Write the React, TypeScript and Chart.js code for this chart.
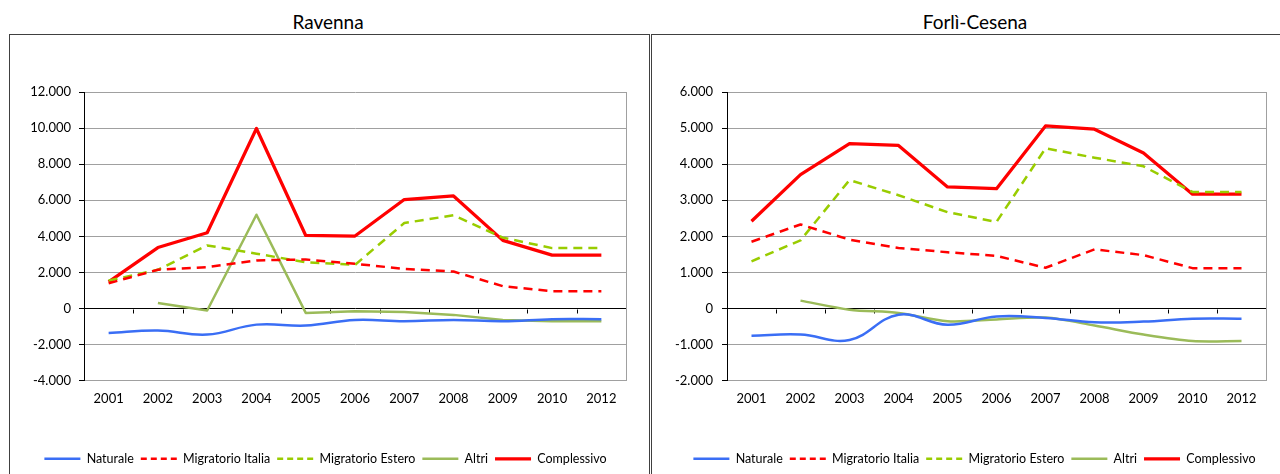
import React, { useEffect, useRef } from 'react';
import { Chart, registerables } from 'chart.js';

Chart.register(...registerables);

const categories = ['2001', '2002', '2003', '2004', '2005', '2006', '2007', '2008', '2009', '2010', '2012'];
const seriesNames = ['Naturale', 'Migratorio Italia', 'Migratorio Estero', 'Altri', 'Complessivo'];

// Ravenna
const ravNaturale = [-1350, -1220, -1440, -890, -940, -630, -700, -630, -700, -590, -590];
const ravMigItalia = [1400, 2150, 2300, 2670, 2720, 2480, 2200, 2050, 1240, 960, 960];
const ravMigEstero = [1550, 2150, 3500, 3040, 2570, 2420, 4740, 5170, 3930, 3350, 3350];
const ravAltri = [null, 310, -110, 5200, -240, -150, -190, -350, -630, -700, -700];
const ravComplessivo = [1480, 3380, 4200, 9980, 4050, 4020, 6040, 6240, 3780, 2960, 2960];

// Forlì-Cesena
const forNaturale = [-750, -720, -870, -170, -450, -220, -260, -380, -360, -280, -280];
const forMigItalia = [1850, 2330, 1910, 1680, 1560, 1460, 1130, 1640, 1480, 1120, 1120];
const forMigEstero = [1310, 1890, 3560, 3140, 2670, 2400, 4440, 4180, 3940, 3230, 3230];
const forAltri = [null, 220, -30, -120, -350, -300, -250, -470, -720, -900, -900];
const forComplessivo = [2420, 3710, 4570, 4520, 3370, 3320, 5060, 4970, 4310, 3170, 3170];

const ravTicks = { min: -4000, max: 12000, step: 2000 };
const forTicks = { min: -2000, max: 6000, step: 1000 };

const FONT = 'Lato, "Open Sans", sans-serif';
const GRID = '#A0A0A0';

function fmt(v: number): string {
  const sign = v < 0 ? '-' : '';
  const s = String(Math.abs(Math.round(v)));
  return sign + s.replace(/\B(?=(\d{3})+(?!\d))/g, '.');
}

const framePlugin = {
  id: 'frame',
  afterLayout(chart: any, _args: any, opts: any) {
    const l = chart.legend;
    if (l && opts && opts.dx) {
      l.left += opts.dx;
      l.right += opts.dx;
    }
  },
  beforeDatasetsDraw(chart: any) {
    const { ctx, chartArea: a, scales } = chart;
    const y0 = Math.round(scales.y.getPixelForValue(0)) + 0.5;
    ctx.save();
    ctx.lineWidth = 1;
    ctx.strokeStyle = GRID;
    const xr = Math.round(a.right) + 0.5;
    ctx.beginPath();
    ctx.moveTo(xr, a.top);
    ctx.lineTo(xr, a.bottom);
    ctx.stroke();
    ctx.strokeStyle = '#000';
    const n = chart.data.labels.length;
    const w = (a.right - a.left) / n;
    ctx.beginPath();
    for (let i = 1; i < n; i++) {
      const x = Math.round(a.left + i * w) + 0.5;
      ctx.moveTo(x, y0);
      ctx.lineTo(x, y0 + 4);
    }
    ctx.stroke();
    ctx.restore();
  },
};

type PanelProps = {
  title: string;
  titleCenter: number;
  boxLeft: number;
  boxWidth: number;
  canvasWidth: number;
  plotLeft: number;
  padRight: number;
  legendDx: number;
  ticks: { min: number; max: number; step: number };
  labelPad: number;
  data: (number | null)[][];
  altriTension: number;
};

function Panel(p: PanelProps) {
  const ref = useRef<HTMLCanvasElement | null>(null);
  useEffect(() => {
    if (!ref.current) return;
    const styles = [
      { color: '#3A6EF5', width: 2.5, dash: [] as number[], tension: 0.4 },
      { color: '#FF0000', width: 2.5, dash: [9, 6], tension: 0 },
      { color: '#99CC00', width: 2.5, dash: [9, 6], tension: 0 },
      { color: '#9BBB59', width: 2.5, dash: [] as number[], tension: p.altriTension },
      { color: '#FF0000', width: 3.25, dash: [] as number[], tension: 0 },
    ];
    const chart = new Chart(ref.current, {
      type: 'line',
      data: {
        labels: categories,
        datasets: seriesNames.map((name, i) => ({
          label: name,
          data: p.data[i],
          borderColor: styles[i].color,
          backgroundColor: styles[i].color,
          borderWidth: styles[i].width,
          borderDash: styles[i].dash,
          borderCapStyle: 'butt',
          borderJoinStyle: 'round',
          tension: styles[i].tension,
          pointRadius: 0,
          fill: false,
        })),
      },
      options: {
        animation: false,
        responsive: false,
        maintainAspectRatio: false,
        layout: { padding: { top: 57, right: p.padRight, bottom: 20, left: 0 } },
        plugins: {
          frame: { dx: p.legendDx },
          legend: {
            position: 'bottom',
            labels: {
              usePointStyle: true,
              pointStyle: 'line',
              pointStyleWidth: 36,
              padding: 7,
              color: '#000',
              font: { size: 12.5, family: FONT },
              generateLabels: (c: any) =>
                c.data.datasets.map((ds: any, i: number) => ({
                  text: ds.label,
                  strokeStyle: ds.borderColor,
                  fillStyle: ds.borderColor,
                  lineWidth: ds.borderWidth,
                  lineDash: ds.borderDash.length ? [6, 4] : [],
                  lineCap: 'butt',
                  pointStyle: 'line',
                  hidden: false,
                  datasetIndex: i,
                  fontColor: '#000',
                })),
            },
          },
          tooltip: { enabled: false },
        },
        scales: {
          x: {
            offset: true,
            grid: { display: false, drawTicks: false },
            border: { display: true, color: GRID },
            ticks: { padding: 10, color: '#000', font: { size: 13, family: FONT }, autoSkip: false, maxRotation: 0 },
            afterFit: (s: any) => {
              s.height = 64.75;
            },
          },
          y: {
            min: p.ticks.min,
            max: p.ticks.max,
            ticks: {
              stepSize: p.ticks.step,
              callback: (v: any) => fmt(Number(v)),
              padding: p.labelPad,
              color: '#000',
              font: { size: 13, family: FONT },
            },
            grid: {
              color: (c: any) => (c.tick && c.tick.value === 0 ? '#000' : GRID),
              tickColor: '#000',
              tickLength: 5,
            },
            border: { color: '#000' },
            afterFit: (s: any) => {
              s.width = p.plotLeft;
            },
          },
        },
      } as any,
      plugins: [framePlugin],
    });
    return () => chart.destroy();
  }, []);

  return (
    <>
      <div
        style={{
          position: 'absolute',
          left: p.titleCenter - 200,
          width: 400,
          top: 10,
          lineHeight: '24px',
          textAlign: 'center',
          fontFamily: FONT,
          fontSize: 19,
          color: '#000',
        }}
      >
        {p.title}
      </div>
      <div
        style={{
          position: 'absolute',
          left: p.boxLeft,
          top: 34,
          width: p.boxWidth,
          height: 470,
          boxSizing: 'border-box',
          border: '1px solid #404040',
        }}
      >
        <canvas
          ref={ref}
          width={p.canvasWidth}
          height={460}
          style={{ position: 'absolute', left: 0, top: 0, display: 'block' }}
        />
      </div>
    </>
  );
}

export default function App() {
  return (
    <div
      style={{
        position: 'absolute',
        left: 0,
        top: 0,
        width: 1280,
        height: 474,
        overflow: 'hidden',
        background: '#fff',
      }}
    >
      <Panel
        title="Ravenna"
        titleCenter={328}
        boxLeft={9}
        boxWidth={641}
        canvasWidth={639}
        plotLeft={74}
        padRight={23}
        legendDx={7.5}
        ticks={ravTicks}
        labelPad={8}
        data={[ravNaturale, ravMigItalia, ravMigEstero, ravAltri, ravComplessivo]}
        altriTension={0}
      />
      <Panel
        title="Forlì-Cesena"
        titleCenter={975}
        boxLeft={651}
        boxWidth={640}
        canvasWidth={628}
        plotLeft={75}
        padRight={14}
        legendDx={15.5}
        ticks={forTicks}
        labelPad={9}
        data={[forNaturale, forMigItalia, forMigEstero, forAltri, forComplessivo]}
        altriTension={0.3}
      />
    </div>
  );
}
